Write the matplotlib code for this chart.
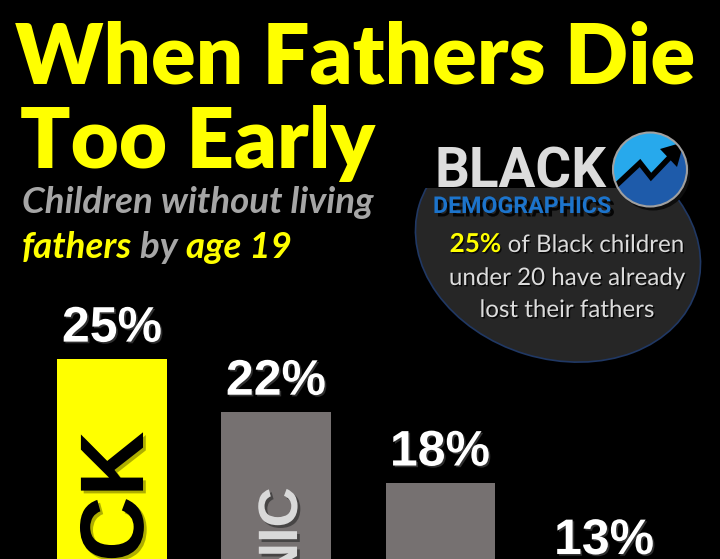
import matplotlib
matplotlib.use("Agg")
import matplotlib.pyplot as plt
from matplotlib.patches import Ellipse, Circle, Polygon, Rectangle
import matplotlib.patheffects as pe
import numpy as np

# ---------------- data ----------------
categories = ["BLACK", "HISPANIC", "WHITE", "ASIAN"]
values = [25, 22, 18, 13]
value_labels = ["25%", "22%", "18%", "13%"]

title_lines = ["When Fathers Die", "Too Early"]
subtitle_line1 = "Children without living"
subtitle_line2 = ["fathers", " by ", "age 19"]
callout_highlight = "25%"
callout_lines = [" of Black children", "under 20 have already", "lost their fathers"]
logo_word1 = "BLACK"
logo_word2 = "DEMOGRAPHICS"

# ---------------- style ----------------
YELLOW = "#FFFF00"
GRAY_BAR = "#767171"
SUB_GRAY = "#A6A6A6"
TXT_LIGHT = "#DCDCDC"
LOGO_FONT = dict(family=["Roboto", "DejaVu Sans"], fontweight="bold")

W, H = 720, 559
fig = plt.figure(figsize=(W / 100, H / 100), dpi=100, facecolor="black")

# ---------------- bars ----------------
ax = fig.add_axes([0, 0, 1, 1])
ax.set_facecolor("black")
xpos = np.arange(len(categories))
bar_colors = [YELLOW] + [GRAY_BAR] * (len(categories) - 1)
ax.bar(xpos, values, width=0.665, color=bar_colors, linewidth=0, zorder=2)
ax.set_xlim(-0.683, 3.707)
ax.set_ylim(13.68, 45.26)
ax.axis("off")

shadow_white = [pe.SimplePatchShadow(offset=(1.2, -1.2), shadow_rgbFace="#444444", alpha=0.7), pe.Normal()]
for xi, v, lbl in zip(xpos, values, value_labels):
    ax.annotate(lbl, (xi, v), xytext=(0, 17), textcoords="offset pixels",
                ha="center", va="baseline", color="white", fontsize=36,
                fontweight="bold", family="Liberation Sans", annotation_clip=False,
                path_effects=shadow_white, zorder=3)

# rotated category names inside the first two bars
inbar_style = [
    dict(color="#000000", size=65, dx=31, dy=-73, shadow="#8C8C00"),
    dict(color="#D9D9D9", size=40, dx=21, dy=-76, shadow="#333333"),
]
for i, st in enumerate(inbar_style):
    ax.annotate(categories[i], (xpos[i], values[i]), xytext=(st["dx"], st["dy"]),
                textcoords="offset pixels", rotation=90, rotation_mode="anchor",
                ha="right", va="baseline", color=st["color"], fontsize=st["size"],
                fontweight="bold", family="Liberation Sans", zorder=3,
                annotation_clip=False,
                path_effects=[pe.SimplePatchShadow(offset=(2, -2), shadow_rgbFace=st["shadow"], alpha=0.7),
                              pe.Normal()])

# ---------------- overlay (pixel coordinates) ----------------
ov = fig.add_axes([0, 0, 1, 1], zorder=5)
ov.set_xlim(0, W)
ov.set_ylim(H, 0)
ov.axis("off")
ov.patch.set_visible(False)

ov.add_patch(Ellipse((558, 247), 290, 224, angle=16.8, facecolor="#262626",
                     edgecolor="#203864", lw=1.2, zorder=1))
ov.add_patch(Rectangle((410, 110), 300, 78, facecolor="black", edgecolor="none", zorder=2))


def fit_width(t, target):
    fig.canvas.draw()
    w = t.get_window_extent().width
    t.set_size(t.get_size() * target / w)


# logo
lg1 = ov.text(434, 187, logo_word1, color="#DCDCDC", fontsize=43, ha="left", va="baseline",
              zorder=4, **LOGO_FONT)
fit_width(lg1, 172)
lg2 = ov.text(433, 213, logo_word2, color="#1C74CC", fontsize=19, ha="left", va="baseline", zorder=4,
              path_effects=[pe.SimplePatchShadow(offset=(2.5, -2.5), shadow_rgbFace="black", alpha=0.85),
                            pe.Normal()], **LOGO_FONT)
fit_width(lg2, 178)

cx, cy, r = 650, 169.5, 37
ov.add_patch(Circle((cx + 3, cy + 4), r, facecolor="#0d0d0d", edgecolor="none", zorder=4))
circ = Circle((cx, cy), r, facecolor="#27A9EC", edgecolor="none", zorder=5)
ov.add_patch(circ)
zig_x = [608, 640, 651, 672]
zig_y = [193, 163, 177, 155]
lower = Polygon(list(zip(zig_x, zig_y)) + [(684, 143), (700, 150), (700, 215), (600, 215), (600, 193)],
                closed=True, facecolor="#1E5BAA", edgecolor="none", zorder=6)
ov.add_patch(lower)
lower.set_clip_path(circ)
ln, = ov.plot(zig_x, zig_y, color="black", lw=4, solid_joinstyle="miter", zorder=7)
ln.set_clip_path(circ)
head = Polygon([(684, 142), (660, 149), (677, 167)], closed=True, facecolor="black", edgecolor="none", zorder=7)
ov.add_patch(head)
head.set_clip_path(circ)
ov.add_patch(Circle((cx, cy), r, fill=False, edgecolor="#A0A0A0", lw=1.5, zorder=8))

# ---------------- title ----------------
t1 = ov.text(15, 84, title_lines[0], color=YELLOW, fontsize=60, family="Lato",
             fontweight="heavy", ha="left", va="baseline", zorder=4)
fit_width(t1, 680)
t2 = ov.text(20, 168, title_lines[1], color=YELLOW, fontsize=t1.get_fontsize(), family="Lato",
             fontweight="heavy", ha="left", va="baseline", zorder=4)

# ---------------- subtitle ----------------
s1 = ov.text(22, 213, subtitle_line1, color=SUB_GRAY, fontsize=20, family="Lato",
             fontweight="bold", style="italic", ha="left", va="baseline", zorder=4)
fit_width(s1, 350)
fs = s1.get_fontsize()
sub_colors = [YELLOW, SUB_GRAY, YELLOW]
prev = ov.text(22, 258, subtitle_line2[0], color=sub_colors[0], fontsize=fs, family="Lato",
               fontweight="bold", style="italic", ha="left", va="baseline", zorder=4)
for part, col in zip(subtitle_line2[1:], sub_colors[1:]):
    prev = ov.annotate(part, xy=(1, 0), xycoords=prev, ha="left", va="bottom", color=col,
                       fontsize=fs, family="Lato", fontweight="bold", style="italic", zorder=4)

# ---------------- callout ----------------
txt_shadow = [pe.SimplePatchShadow(offset=(1, -1), shadow_rgbFace="black", alpha=0.8), pe.Normal()]
c2 = ov.text(567, 285, callout_lines[1], color=TXT_LIGHT, fontsize=16, family="Lato",
             ha="center", va="baseline", zorder=4, path_effects=txt_shadow)
fit_width(c2, 238)
fc = c2.get_fontsize()
c3 = ov.text(567, 317, callout_lines[2], color=TXT_LIGHT, fontsize=fc, family="Lato",
             ha="center", va="baseline", zorder=4, path_effects=txt_shadow)
ca = ov.text(0, 252, callout_highlight, color=YELLOW, fontsize=fc * 1.08, family="Lato",
             fontweight="bold", ha="left", va="baseline", zorder=4, path_effects=txt_shadow)
cb = ov.text(0, 252, callout_lines[0], color=TXT_LIGHT, fontsize=fc, family="Lato",
             ha="left", va="baseline", zorder=4, path_effects=txt_shadow)
fig.canvas.draw()
wa = ca.get_window_extent().width
wb = cb.get_window_extent().width
x0 = 567 - (wa + wb) / 2
ca.set_x(x0)
cb.set_x(x0 + wa)

fig.savefig("out.png", dpi=100, facecolor="black")
